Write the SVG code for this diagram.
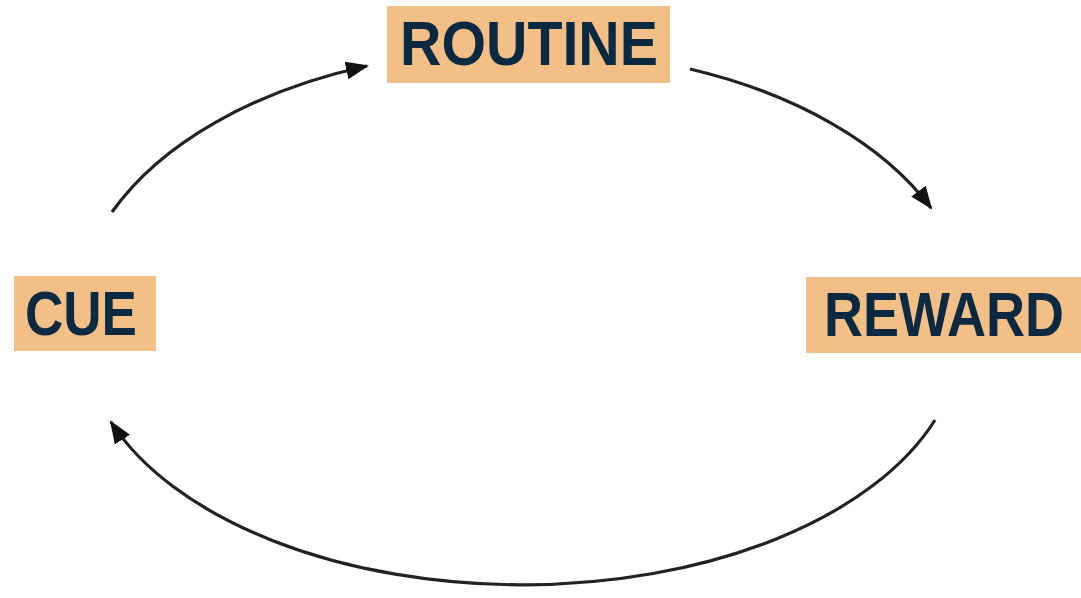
<svg xmlns="http://www.w3.org/2000/svg" width="1081" height="598" viewBox="0 0 1081 598">
  <style>
    .box { fill: #f2bf86; }
    .lbl { font-family: "Liberation Sans", "DejaVu Sans", sans-serif; font-weight: bold; font-size: 63px; fill: #0b2a42; }
    .conn { fill: none; stroke: #222; stroke-width: 3.2; marker-end: url(#arrow); }
  </style>
  <defs>
    <marker id="arrow" markerUnits="userSpaceOnUse" markerWidth="26" markerHeight="20" refX="21" refY="9" orient="auto">
      <path d="M0,0 L23,9 L0,18 Z" fill="#111"/>
    </marker>
  </defs>
  <rect width="1081" height="598" fill="#ffffff"/>
  <g id="connectors">
    <path class="conn" d="M 112 212 A 438 268 0 0 1 367 66"/>
    <path class="conn" d="M 690 69 A 438 268 0 0 1 931 208"/>
    <path class="conn" d="M 935 420 A 438 248 0 0 1 111 422"/>
  </g>
  <g id="routine">
    <rect class="box" x="387" y="6" width="283" height="77"/>
    <text class="lbl" x="400" y="65" textLength="258" lengthAdjust="spacingAndGlyphs">ROUTINE</text>
  </g>
  <g id="cue">
    <rect class="box" x="14" y="276" width="142" height="75"/>
    <text class="lbl" x="25" y="335" textLength="112" lengthAdjust="spacingAndGlyphs">CUE</text>
  </g>
  <g id="reward">
    <rect class="box" x="806" y="277" width="275" height="76"/>
    <text class="lbl" style="font-size:54px" transform="translate(824,336) scale(1,1.1667)" x="0" y="0" textLength="240" lengthAdjust="spacingAndGlyphs">REWARD</text>
  </g>
</svg>
